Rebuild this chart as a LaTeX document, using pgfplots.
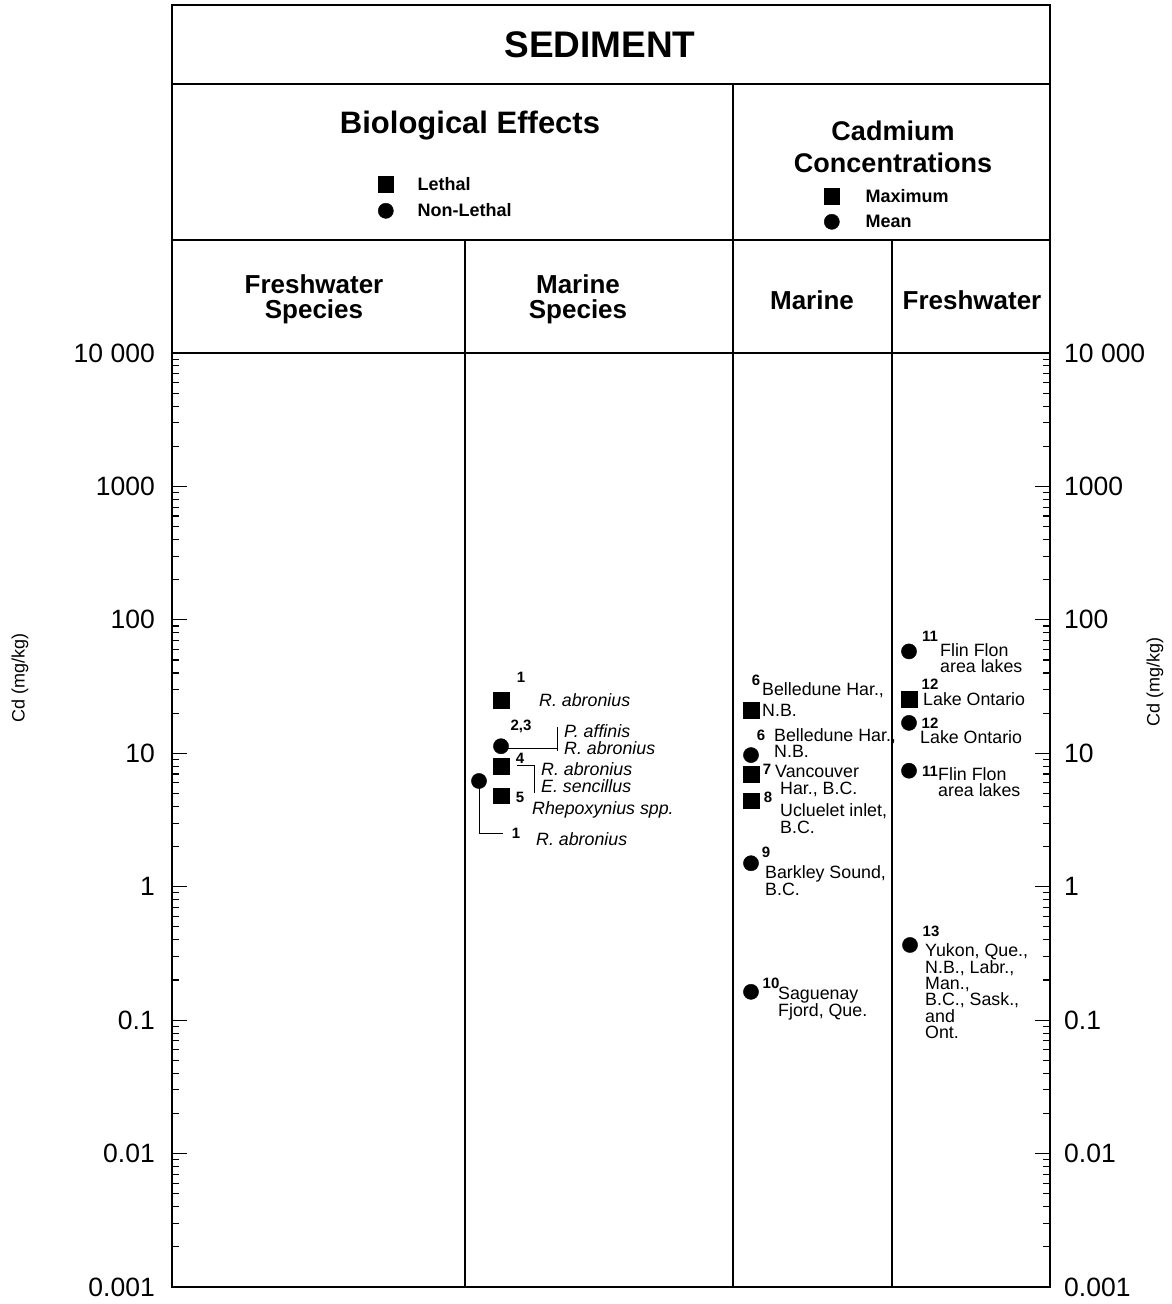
\documentclass[border=0pt]{standalone}
\usepackage{fontspec}
\setmainfont{Liberation Sans}
\usepackage{pgfplots}
\pgfplotsset{compat=1.18}
\newcommand{\an}{\fontsize{17.8}{18}\selectfont}
\newcommand{\nb}{\bfseries\fontsize{15}{15}\selectfont}
\pgfplotsset{
 cdaxis/.style={
  xtick=\empty,
  axis line style={line width=1.3pt},
  tick style={line width=1.1pt, black},
  major tick length=15pt, minor tick length=7pt, tick align=inside,
  ytick={0.001,0.01,0.1,1,10,100,1000,10000},
  yticklabels={0.001,0.01,0.1,1,10,100,1000,10\ 000},
  minor ytick={0.002,0.003,0.004,0.005,0.006,0.007,0.008,0.009,0.02,0.03,0.04,0.05,0.06,0.07,0.08,0.09,0.2,0.3,0.4,0.5,0.6,0.7,0.8,0.9,2,3,4,5,6,7,8,9,20,30,40,50,60,70,80,90,200,300,400,500,600,700,800,900,2000,3000,4000,5000,6000,7000,8000,9000},
  ylabel={Cd (mg/kg)},
  legend cell align=left,
 },
 sq/.style={only marks, mark=square*, mark size=7.8pt, mark options={fill=black,draw=black},
   legend image code/.code={\draw[##1] plot coordinates {(0pt,0pt)};}},
 ci/.style={only marks, mark=*, mark size=7.6pt, mark options={fill=black,draw=black},
   legend image code/.code={\draw[##1] plot coordinates {(0pt,0pt)};}},
}
\begin{document}
\begin{tikzpicture}
\begin{scope}[x=1pt,y=-1pt,shift={(-172,-1287)}]
\useasboundingbox (0,0) rectangle (1172,1304);
\end{scope}

% Biological effects
\begin{axis}[scale only axis, width=878pt, height=934pt,
  xmin=172, xmax=1050, ymode=log, ymin=0.001, ymax=10000, clip=false,
  cdaxis, ytick pos=left,
  yticklabel style={font=\fontsize{26.5}{26}\selectfont, inner sep=0pt, xshift=-17pt},
  every axis y label/.style={at={(axis description cs:-0.1731,0.652)}, rotate=90, anchor=center, font=\fontsize{18}{18}\selectfont},
  legend style={draw=none, fill=none, inner sep=0pt, outer sep=0pt, anchor=west,
    font=\bfseries\fontsize{18}{18}\selectfont, nodes={inner sep=0pt},
    row sep=11pt, /tikz/every odd column/.append style={column sep=24pt},
    at={(axis description cs:0.23462,1.16649)}}]
\addplot[sq] coordinates {(501,25.1) (501,8.0) (501,4.8)};
\addlegendentry{Lethal}
\addplot[ci] coordinates {(501,11.3) (479,6.2)};
\addlegendentry{Non-Lethal}
\end{axis}

% Cadmium concentrations
\begin{axis}[scale only axis, width=878pt, height=934pt,
  xmin=172, xmax=1050, ymode=log, ymin=0.001, ymax=10000, clip=false,
  cdaxis, ytick pos=right, yticklabel pos=right,
  yticklabel style={font=\fontsize{26.5}{26}\selectfont, inner sep=0pt, xshift=14pt},
  every axis y label/.style={at={(axis description cs:1.1196,0.6478)}, rotate=90, anchor=center, font=\fontsize{18}{18}\selectfont},
  legend style={draw=none, fill=none, inner sep=0pt, outer sep=0pt, anchor=west,
    font=\bfseries\fontsize{18}{18}\selectfont, nodes={inner sep=0pt},
    row sep=10pt, /tikz/every odd column/.append style={column sep=26pt},
    at={(axis description cs:0.7426,1.15418)}}]
\addplot[sq] coordinates {(751,21) (751,7.0) (751,4.4) (909,25.5)};
\addlegendentry{Maximum}
\addplot[ci] coordinates {(751,9.7) (751,1.5) (751,0.163) (909,58) (909,16.9) (909,7.4) (910,0.366)};
\addlegendentry{Mean}
\end{axis}

\begin{scope}[x=1pt,y=-1pt,shift={(-172,-1287)}]
 \begin{scope}[line width=1.3pt]
 \draw (172,5) rectangle (1050,1287);
 \draw (172,84) -- (1050,84);
 \draw (172,240) -- (1050,240);
 \draw (172,353) -- (1050,353);
 \draw (733,84) -- (733,1287);
 \end{scope}
 \begin{scope}[line width=1.1pt]
 \draw (465,240) -- (465,1287);
 \draw (892,240) -- (892,1287);
 \end{scope}
 % header texts
 \node[font=\bfseries\fontsize{37}{37}\selectfont] at (600,45) {SEDIMENT};
 \node[font=\bfseries\fontsize{31}{31}\selectfont] at (470,126) {Biological Effects};
 \node[font=\bfseries\fontsize{27}{32}\selectfont, align=center] at (893,147) {Cadmium\\Concentrations};
 \node[font=\bfseries\fontsize{26}{25}\selectfont, align=center] at (314,299) {Freshwater\\Species};
 \node[font=\bfseries\fontsize{26}{25}\selectfont, align=center] at (578,299) {Marine\\Species};
 \node[font=\bfseries\fontsize{26}{26}\selectfont] at (812,300) {Marine};
 \node[font=\bfseries\fontsize{26}{26}\selectfont] at (972,300) {Freshwater};
 % connectors
 \begin{scope}[line width=0.9pt]
 \draw (501,748) -- (557,748);
 \draw (557,727) -- (557,751);
 \draw (517,765) -- (534,765) -- (534,793);
 \draw (479,781) -- (479,833) -- (503,833);
 \end{scope}
 \tikzset{num/.style={font=\nb, inner sep=0pt, anchor=center},
          lab/.style={font=\an, inner sep=0pt, anchor=mid west},
          ml/.style={inner sep=0pt, anchor=west, align=left, font=\fontsize{17.8}{#1}\selectfont}}
 % Marine species
 \node[num] at (521,677) {1};
 \node[lab] at (539,704) {\itshape R. abronius};
 \node[num] at (521,726) {2,3};
 \node[ml=17] at (564,740) {\itshape P. affinis\\\itshape R. abronius};
 \node[num] at (520,758) {4};
 \node[ml=17] at (541,778) {\itshape R. abronius\\\itshape E. sencillus};
 \node[num] at (520,797) {5};
 \node[lab] at (532,812) {\itshape Rhepoxynius spp.};
 \node[num] at (516,833) {1};
 \node[lab] at (536,843) {\itshape R. abronius};
 % Marine concentrations
 \node[num] at (756,680) {6};
 \node[ml=21] at (762,700) {Belledune Har.,\\N.B.};
 \node[num] at (761,735) {6};
 \node[ml=16] at (774,743.5) {Belledune Har.,\\N.B.};
 \node[num] at (767,769) {7};
 \node[ml=17] at (775,781) {Vancouver\\\hspace*{5pt}Har., B.C.};
 \node[num] at (768,797) {8};
 \node[ml=17] at (780,819) {Ucluelet inlet,\\B.C.};
 \node[num] at (766,852) {9};
 \node[ml=16] at (765,880.5) {Barkley Sound,\\B.C.};
 \node[num] at (771,983) {10};
 \node[ml=16] at (778,1003.5) {Saguenay\\Fjord, Que.};
 % Freshwater concentrations
 \node[num] at (930,636) {11};
 \node[ml=16] at (940,658) {Flin Flon\\area lakes};
 \node[num] at (930,684) {12};
 \node[lab] at (923,703) {Lake Ontario};
 \node[num] at (930,723) {12};
 \node[lab] at (920,741) {Lake Ontario};
 \node[num] at (930,771) {11};
 \node[ml=16] at (938,782) {Flin Flon\\area lakes};
 \node[num] at (931,931) {13};
 \node[ml=16.2] at (925,991) {Yukon, Que.,\\N.B., Labr.,\\Man.,\\B.C., Sask.,\\and\\Ont.};
\end{scope}
\end{tikzpicture}
\end{document}
